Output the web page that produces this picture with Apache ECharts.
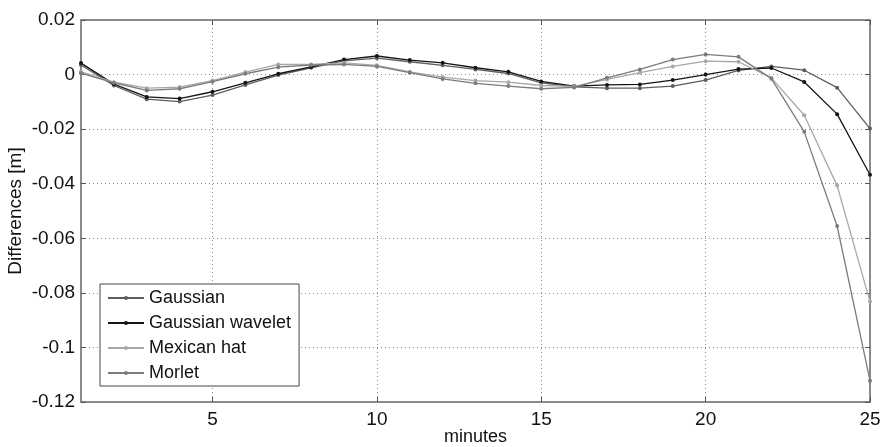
<!DOCTYPE html>
<html>
<head>
<meta charset="utf-8">
<script src="https://cdn.jsdelivr.net/npm/echarts@6/dist/echarts.min.js"></script>
<style>html,body{margin:0;padding:0;background:#fff}#c{width:880px;height:447px}</style>
</head>
<body>
<div id="c"></div>
<script>
const minutes = [1,2,3,4,5,6,7,8,9,10,11,12,13,14,15,16,17,18,19,20,21,22,23,24,25];
const gaussian = [0.0035,-0.004,-0.009,-0.0099,-0.0075,-0.0038,-0.0002,0.0025,0.005,0.006,0.0047,0.0034,0.0019,0.0004,-0.003,-0.0045,-0.005,-0.005,-0.0042,-0.002,0.0015,0.003,0.0016,-0.0048,-0.0198];
const gaussianWavelet = [0.0042,-0.0035,-0.0082,-0.0088,-0.0063,-0.003,0.0003,0.0028,0.0055,0.0068,0.0053,0.0043,0.0025,0.001,-0.0025,-0.0042,-0.0038,-0.0036,-0.002,0.0,0.002,0.0024,-0.0027,-0.0145,-0.0367];
const mexicanHat = [0.001,-0.0028,-0.005,-0.0046,-0.0022,0.0009,0.0037,0.0037,0.0043,0.0034,0.001,-0.0009,-0.0022,-0.0028,-0.004,-0.0043,-0.0018,0.0007,0.003,0.0049,0.0047,-0.0012,-0.0149,-0.0407,-0.0832];
const morlet = [0.0005,-0.003,-0.0058,-0.0052,-0.0026,0.0003,0.0027,0.0035,0.0037,0.003,0.0007,-0.0016,-0.0032,-0.0042,-0.0052,-0.0047,-0.0012,0.0019,0.0055,0.0074,0.0065,-0.0015,-0.021,-0.0555,-0.1122];
const xTickValues = [5,10,15,20,25];
const yTicks = {min:-0.12, max:0.02, interval:0.02};
const xRange = {min:1, max:25};

const seriesDefs = [
  {name:'Gaussian', data:gaussian, color:'#5e5e5e'},
  {name:'Gaussian wavelet', data:gaussianWavelet, color:'#151515'},
  {name:'Mexican hat', data:mexicanHat, color:'#a8a8a8'},
  {name:'Morlet', data:morlet, color:'#7c7c7c'}
];

const font = 'Liberation Sans, Arial, sans-serif';
const chart = echarts.init(document.getElementById('c'));
const fmtY = v => String(parseFloat(v.toFixed(2)));
const baseX = {type:'value', min:xRange.min, max:xRange.max, splitNumber:5};
const baseY = {type:'value', min:yTicks.min, max:yTicks.max, interval:yTicks.interval};
const tickStyle = {show:true, inside:true, length:5, lineStyle:{color:'#555'}};
chart.setOption({
  animation:false,
  backgroundColor:'#fff',
  grid:{left:81, right:10, top:20, bottom:45, containLabel:false, outerBoundsMode:'none',
        show:true, borderColor:'#666', borderWidth:1.5, backgroundColor:'transparent'},
  legend:{
    orient:'vertical', left:100, top:284,
    backgroundColor:'#fff', borderColor:'#444', borderWidth:1,
    padding:[5,8,4,7], itemWidth:36, itemHeight:5, itemGap:7,
    textStyle:{fontFamily:font, fontSize:18, color:'#111', lineHeight:18},
    data:seriesDefs.map(s=>s.name)
  },
  xAxis:[
    Object.assign({}, baseX, {
      position:'bottom',
      name:'minutes', nameLocation:'middle', nameGap:26, nameMoveOverlap:false,
      nameTextStyle:{fontFamily:font, fontSize:18, color:'#111'},
      axisLine:{show:false, onZero:false},
      axisTick:Object.assign({customValues:xTickValues}, tickStyle),
      axisLabel:{fontFamily:font, fontSize:19, color:'#111', margin:8, customValues:xTickValues},
      splitLine:{show:true, lineStyle:{type:[1,3], color:'#888', width:1}}
    }),
    Object.assign({}, baseX, {
      position:'top',
      axisLine:{show:false, onZero:false},
      axisTick:Object.assign({customValues:xTickValues}, tickStyle),
      axisLabel:{show:false}, splitLine:{show:false}
    })
  ],
  yAxis:[
    Object.assign({}, baseY, {
      position:'left',
      name:'Differences [m]', nameLocation:'middle', nameGap:56, nameMoveOverlap:false,
      nameTextStyle:{fontFamily:font, fontSize:19, color:'#111'},
      axisLine:{show:false, onZero:false},
      axisTick:tickStyle,
      axisLabel:{formatter:fmtY, fontFamily:font, fontSize:19, color:'#111', margin:6},
      splitLine:{show:true, lineStyle:{type:[1,3], color:'#888', width:1}}
    }),
    Object.assign({}, baseY, {
      position:'right',
      axisLine:{show:false, onZero:false},
      axisTick:tickStyle,
      axisLabel:{show:false}, splitLine:{show:false}
    })
  ],
  series: seriesDefs.map(s=>({
    name:s.name, type:'line', xAxisIndex:0, yAxisIndex:0,
    data: minutes.map((m,i)=>[m, s.data[i]]),
    symbol:'circle', symbolSize:4, showSymbol:true,
    lineStyle:{color:s.color, width:1.3},
    itemStyle:{color:s.color},
    emphasis:{disabled:true}
  }))
});
</script>
</body>
</html>
